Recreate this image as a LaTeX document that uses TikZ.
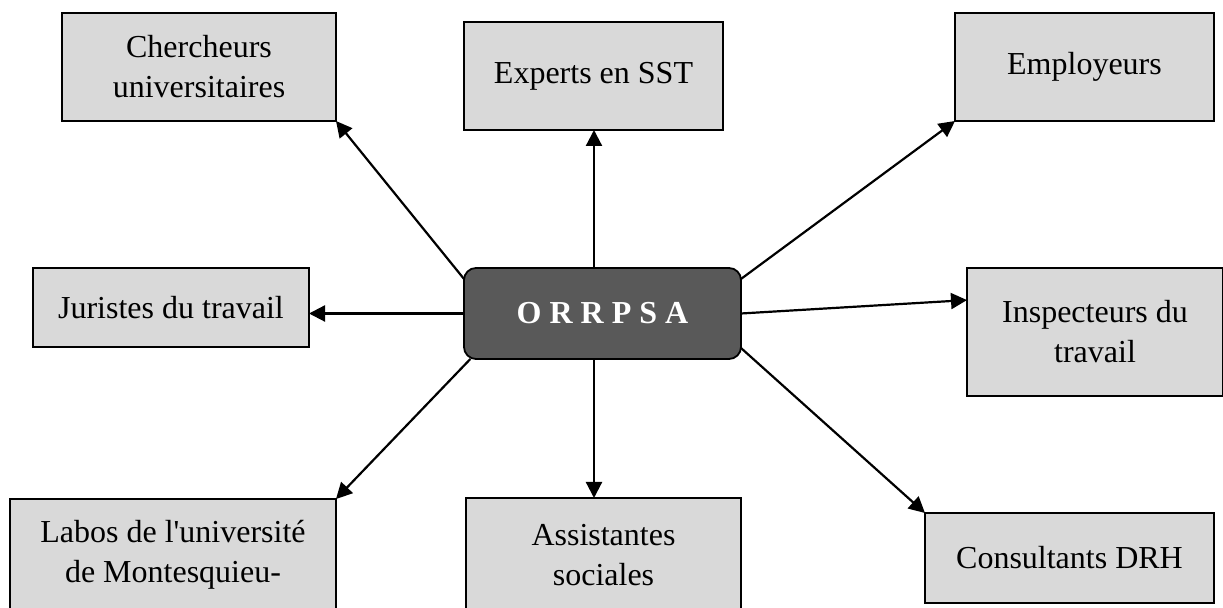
\documentclass[tikz,border=0pt]{standalone}
\usepackage{fontspec}
\setmainfont{Liberation Serif}[Ligatures=TeXOff]
\usetikzlibrary{arrows.meta}

\definecolor{boxgray}{HTML}{D9D9D9}
\definecolor{hubgray}{HTML}{595959}

\begin{document}
\begin{tikzpicture}[x=0.5pt, y=-0.5pt,
  box/.style={draw=black, line width=0.9pt, fill=boxgray, anchor=north west,
    outer sep=0pt, inner sep=0pt, align=center, font=\fontsize{16}{20}\selectfont},
  hub/.style={draw=black, line width=0.9pt, fill=hubgray, rounded corners=6pt,
    anchor=north west, outer sep=0pt, text=white, font=\fontsize{16}{20}\selectfont\bfseries},
  link/.style={-{Triangle[length=8pt, width=8pt]}, line width=1.1pt}]

% Fix the page size (pixels of the sketch)
\useasboundingbox (0,0) rectangle (1223,608);
\clip (0,0) rectangle (1223,608);

% Central box
\node[hub, minimum width=138.5pt, minimum height=45.5pt] (orrpsa) at (464,268) {O R R P S A};

% Surrounding boxes
\node[box, minimum width=137pt, minimum height=54pt] (cherch) at (62,13) {Chercheurs\\universitaires};
\node[box, minimum width=129.5pt, minimum height=54pt] (experts) at (464,22) {Experts en SST};
\node[box, minimum width=129.5pt, minimum height=54pt] (employ) at (955,13) {Employeurs};
\node[box, minimum width=138pt, minimum height=39.5pt] (jurist) at (33,268) {Juristes du travail};
\node[box, minimum width=128pt, minimum height=64pt] (inspect) at (967,268) {Inspecteurs du\\travail};
\node[box, minimum width=163pt, minimum height=56pt] (labos) at (10,499) {Labos de l'université\\de Montesquieu-};
\node[box, minimum width=137.5pt, minimum height=57pt] (assist) at (466,498) {Assistantes\\sociales};
\node[box, minimum width=144.5pt, minimum height=45pt] (consult) at (925,513) {Consultants DRH};

% Arrows out of the centre
\coordinate (axis) at (594,0);
\draw[link] (orrpsa.166) -- (cherch.south east);
\draw[link] (axis |- orrpsa.north) -- (axis |- experts.south);
\draw[link] (orrpsa.14) -- (employ.south west);
\draw[link] (orrpsa.west) -- (orrpsa.west -| jurist.east);
\draw[link] (orrpsa.east) -- (inspect.166);
\draw[link] (orrpsa.199) -- (labos.north east);
\draw[link] (axis |- orrpsa.south) -- (axis |- assist.north);
\draw[link] (orrpsa.-14) -- (consult.north west);
\end{tikzpicture}
\end{document}
